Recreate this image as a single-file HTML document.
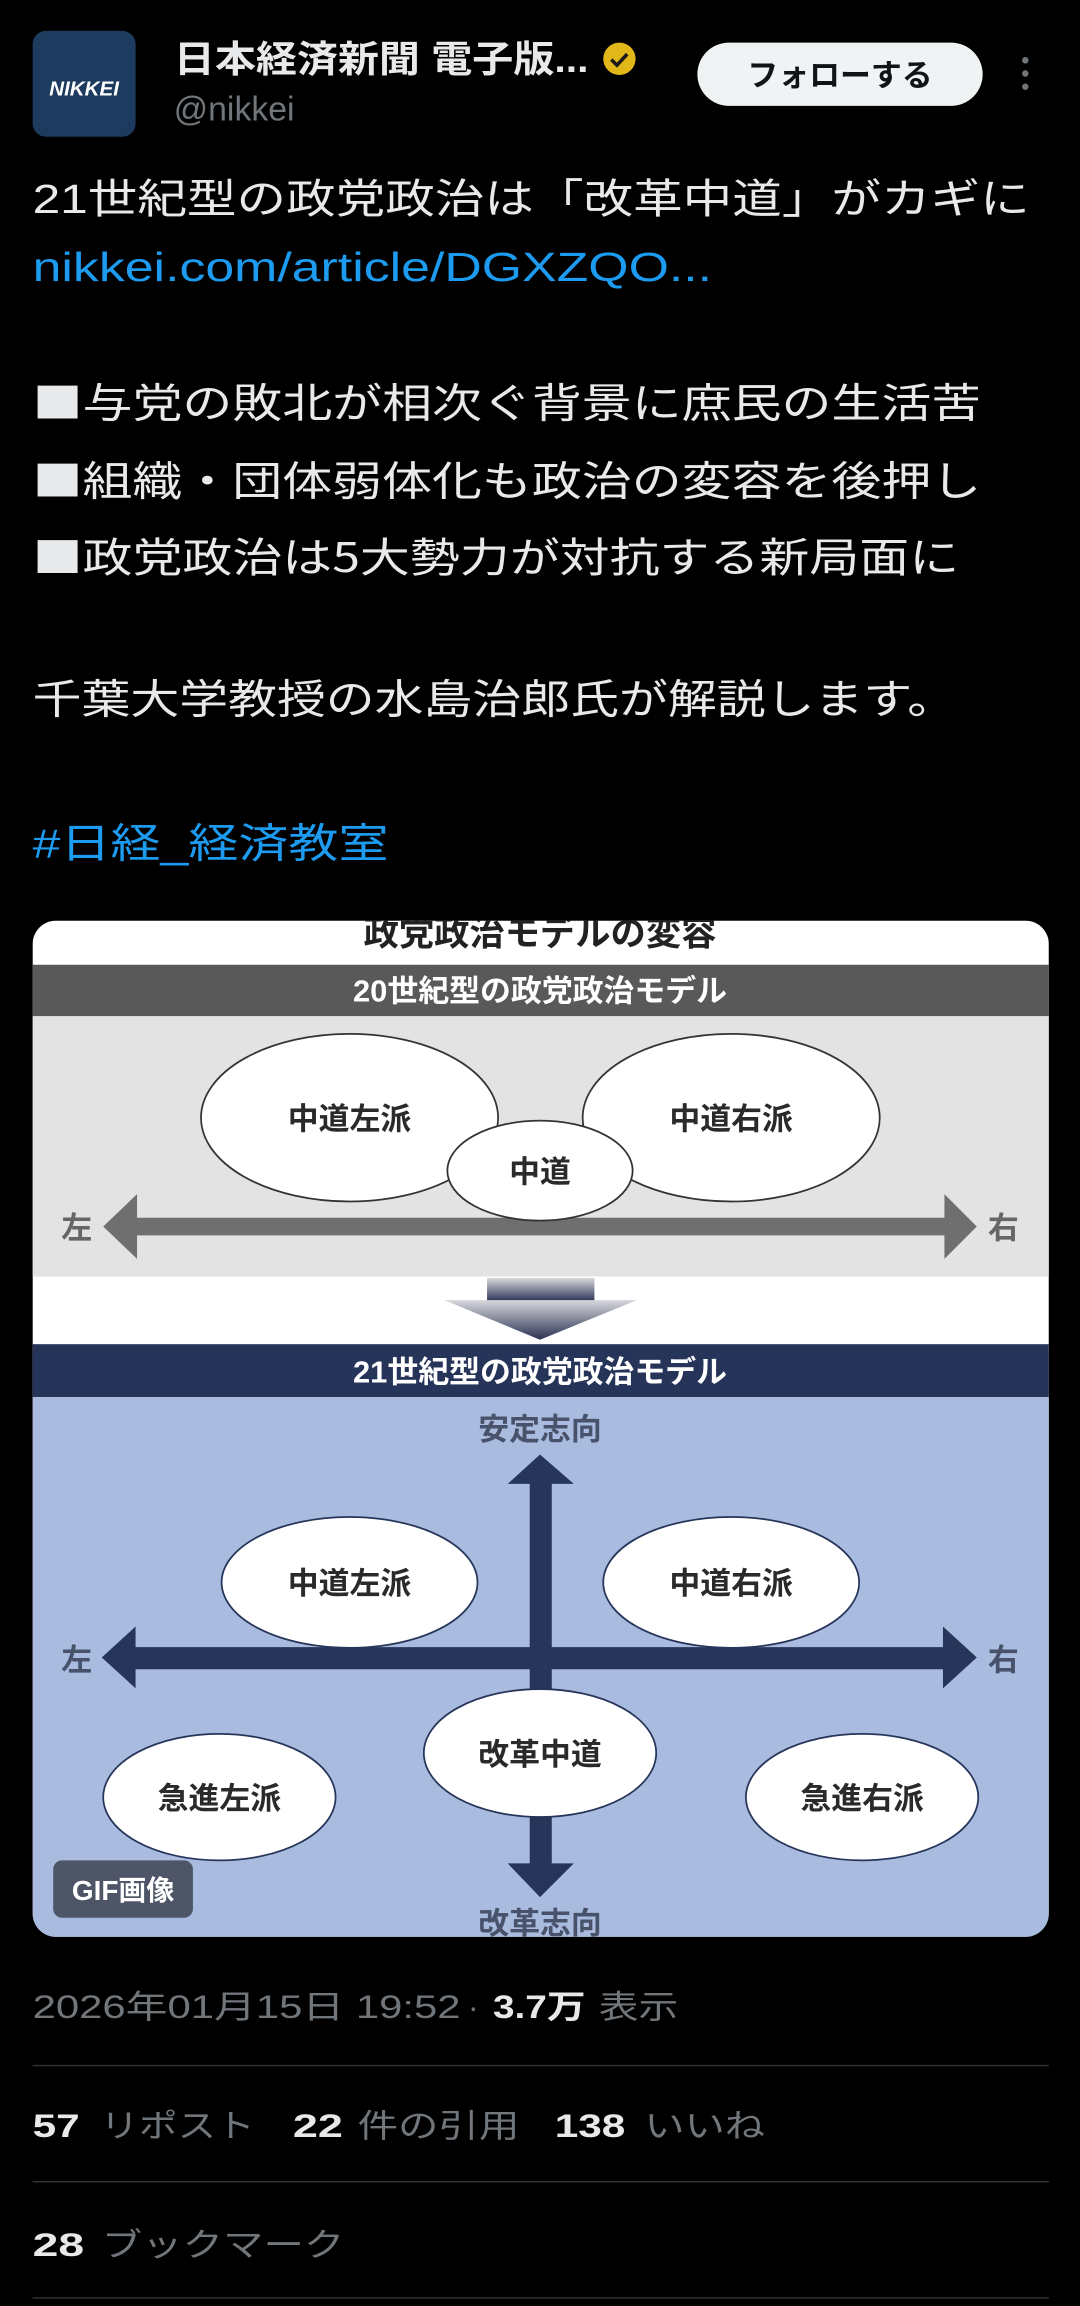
<!DOCTYPE html>
<html><head><meta charset="utf-8"><style>
html,body{margin:0;padding:0;background:#000;width:1080px;height:2306px;overflow:hidden}
svg{display:block}
text{font-family:"Liberation Sans","Noto Sans CJK JP",sans-serif}
.cjk{font-family:"Noto Sans CJK JP",sans-serif}
</style></head><body>
<svg width="1080" height="2306" viewBox="0 0 734 1568" xmlns="http://www.w3.org/2000/svg">
<defs>
<linearGradient id="tg" x1="0" y1="0" x2="0" y2="1"><stop offset="0" stop-color="#d8d8dc"/><stop offset="1" stop-color="#2a3152"/></linearGradient>
<clipPath id="cc"><rect x="22" y="626" width="691" height="691" rx="16"/></clipPath>
</defs>
<rect width="734" height="1568" fill="#000"/>
<!-- header -->
<rect x="22" y="21" width="70" height="72" rx="9" fill="#1d3b5f"/>
<text x="57" y="65" font-size="14" font-weight="bold" font-style="italic" fill="#fff" text-anchor="middle">NIKKEI</text>
<text x="118" y="49" font-size="25" font-weight="bold" fill="#e7e9ea" textLength="282" lengthAdjust="spacingAndGlyphs">日本経済新聞 電子版...</text>
<circle cx="421" cy="40" r="11" fill="#e2b719"/>
<path d="M415.5 40.5 l3.8 3.8 l7 -7.5" stroke="#1a1a1a" stroke-width="2.4" fill="none"/>
<text x="118" y="82" font-size="23" fill="#71767b">@nikkei</text>
<rect x="474" y="29" width="194" height="43" rx="21.5" fill="#eff3f4"/>
<text x="571" y="58.5" font-size="21" font-weight="bold" fill="#0f1419" text-anchor="middle">フォローする</text>
<circle cx="697" cy="41" r="2.2" fill="#71767b"/><circle cx="697" cy="50" r="2.2" fill="#71767b"/><circle cx="697" cy="59" r="2.2" fill="#71767b"/>
<!-- body -->
<g font-size="28" fill="#e7e9ea">
<text x="22" y="145" textLength="678" lengthAdjust="spacingAndGlyphs">21世紀型の政党政治は「改革中道」がカギに</text>
<text x="22" y="191" fill="#1d9bf0" textLength="462" lengthAdjust="spacingAndGlyphs">nikkei.com/article/DGXZQO...</text>
<text class="cjk" x="22" y="284" textLength="645" lengthAdjust="spacingAndGlyphs">■与党の敗北が相次ぐ背景に庶民の生活苦</text>
<text class="cjk" x="22" y="337" textLength="645" lengthAdjust="spacingAndGlyphs">■組織・団体弱体化も政治の変容を後押し</text>
<text class="cjk" x="22" y="389" textLength="630" lengthAdjust="spacingAndGlyphs">■政党政治は5大勢力が対抗する新局面に</text>
<text x="22" y="485" textLength="628" lengthAdjust="spacingAndGlyphs">千葉大学教授の水島治郎氏が解説します。</text>
<text x="22" y="583" fill="#1d9bf0" textLength="242" lengthAdjust="spacingAndGlyphs">#日経_経済教室</text>
</g>
<!-- card -->
<g clip-path="url(#cc)">
<rect x="22" y="626" width="691" height="691" fill="#fff"/>
<text x="367" y="643" font-size="24" font-weight="bold" fill="#222" text-anchor="middle">政党政治モデルの変容</text>
<rect x="22" y="656" width="691" height="35" fill="#595959"/>
<text x="367" y="681" font-size="21" font-weight="bold" fill="#fff" text-anchor="middle">20世紀型の政党政治モデル</text>
<rect x="22" y="691" width="691" height="177" fill="#e3e3e3"/>
<g fill="#fff" stroke="#333" stroke-width="1.2">
<ellipse cx="237.5" cy="760" rx="101" ry="57"/>
<ellipse cx="497" cy="760" rx="101" ry="57"/>
</g>
<path d="M70 834 L93 812 L93 828 L642 828 L642 812 L664 834 L642 856 L642 840 L93 840 L93 856 Z" fill="#6f6f6f"/>
<ellipse cx="367" cy="796" rx="63" ry="34" fill="#fff" stroke="#333" stroke-width="1.2"/>
<g font-size="21" font-weight="bold" fill="#2a2a2a" text-anchor="middle">
<text x="237.5" y="768">中道左派</text><text x="497" y="768">中道右派</text><text x="367" y="804">中道</text>
</g>
<g font-size="21" font-weight="bold" fill="#666" text-anchor="middle"><text x="52" y="842">左</text><text x="682" y="842">右</text></g>
<rect x="331" y="869" width="73" height="16" fill="url(#tg)"/>
<path d="M302 884 L433 884 L367 911 Z" fill="url(#tg)"/>
<rect x="22" y="914" width="691" height="36" fill="#27345a"/>
<text x="367" y="940" font-size="21" font-weight="bold" fill="#fff" text-anchor="middle">21世紀型の政党政治モデル</text>
<rect x="22" y="950" width="691" height="367" fill="#a9bce0"/>
<g font-size="21" font-weight="bold" fill="#49526b" text-anchor="middle">
<text x="367" y="979">安定志向</text><text x="367" y="1315">改革志向</text>
<text x="52" y="1136">左</text><text x="682" y="1136">右</text>
</g>
<g fill="#27355a">
<path d="M367 989 L390 1009 L375 1009 L375 1267 L390 1267 L367 1290 L345 1267 L360 1267 L360 1009 L345 1009 Z"/>
<path d="M69 1127 L92 1106 L92 1120 L641 1120 L641 1106 L664 1127 L641 1148 L641 1135 L92 1135 L92 1148 Z"/>
</g>
<g fill="#fff" stroke="#27355a" stroke-width="1.2">
<ellipse cx="237.5" cy="1076" rx="87" ry="44.5"/>
<ellipse cx="497" cy="1076" rx="87" ry="44.5"/>
<ellipse cx="367" cy="1192" rx="79" ry="43.5"/>
<ellipse cx="149" cy="1222" rx="79" ry="43"/>
<ellipse cx="586" cy="1222" rx="79" ry="43"/>
</g>
<g font-size="21" font-weight="bold" fill="#2a2a2a" text-anchor="middle">
<text x="237.5" y="1084">中道左派</text><text x="497" y="1084">中道右派</text>
<text x="367" y="1200">改革中道</text><text x="149" y="1230">急進左派</text><text x="586" y="1230">急進右派</text>
</g>
<rect x="36" y="1265" width="95" height="39" rx="6" fill="#4d5567"/>
<text x="83.5" y="1292" font-size="19" font-weight="bold" fill="#fff" text-anchor="middle">GIF画像</text>
</g>
<!-- footer -->
<g font-size="22" fill="#71767b">
<text x="22" y="1372" textLength="291" lengthAdjust="spacingAndGlyphs">2026年01月15日 19:52</text>
<text x="318" y="1372">·</text>
<text x="335" y="1372" fill="#e7e9ea" font-weight="bold" textLength="63" lengthAdjust="spacingAndGlyphs">3.7万</text>
<text x="407" y="1372" textLength="54" lengthAdjust="spacingAndGlyphs">表示</text>
</g>
<rect x="22" y="1404" width="691" height="1" fill="#2f3336"/>
<g font-size="22" fill="#71767b">
<text x="22" y="1453" fill="#e7e9ea" font-weight="bold" textLength="32" lengthAdjust="spacingAndGlyphs">57</text>
<text x="68" y="1453" textLength="105" lengthAdjust="spacingAndGlyphs">リポスト</text>
<text x="199" y="1453" fill="#e7e9ea" font-weight="bold" textLength="34" lengthAdjust="spacingAndGlyphs">22</text>
<text x="243" y="1453" textLength="110" lengthAdjust="spacingAndGlyphs">件の引用</text>
<text x="377" y="1453" fill="#e7e9ea" font-weight="bold" textLength="48" lengthAdjust="spacingAndGlyphs">138</text>
<text x="438" y="1453" textLength="82" lengthAdjust="spacingAndGlyphs">いいね</text>
</g>
<rect x="22" y="1483" width="691" height="1" fill="#2f3336"/>
<g font-size="22" fill="#71767b">
<text x="22" y="1534" fill="#e7e9ea" font-weight="bold" textLength="35" lengthAdjust="spacingAndGlyphs">28</text>
<text x="69" y="1534" textLength="165" lengthAdjust="spacingAndGlyphs">ブックマーク</text>
</g>
<rect x="22" y="1562" width="691" height="1" fill="#2f3336"/>
</svg>
</body></html>
